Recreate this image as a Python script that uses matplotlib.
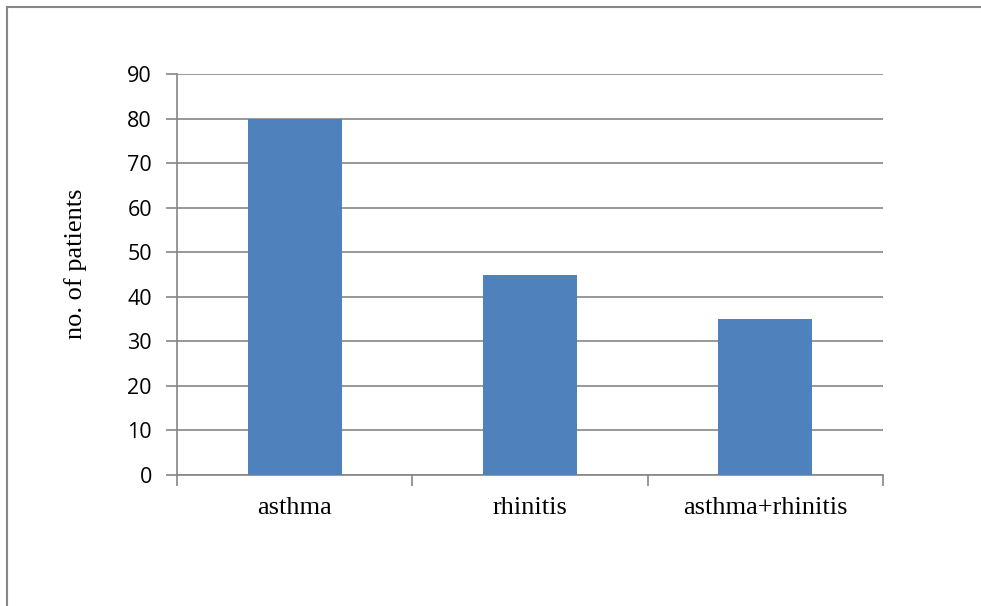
import matplotlib
matplotlib.use("Agg")
import matplotlib.pyplot as plt
from matplotlib.lines import Line2D

categories = ["asthma", "rhinitis", "asthma+rhinitis"]
patients = [80, 45, 35]
y_ticks = [0, 10, 20, 30, 40, 50, 60, 70, 80, 90]

grey = "#868686"

fig = plt.figure(figsize=(9.81, 6.06), dpi=100)
ax = fig.add_axes([177 / 981, 1 - 475 / 606, (883 - 177) / 981, (475 - 74) / 606])

x = list(range(len(categories)))
ax.bar(x, patients, width=0.4, color="#4F81BD", zorder=3)

ax.set_xlim(-0.5, len(categories) - 0.5)
ax.set_ylim(0, 90)
ax.set_yticks(y_ticks)
ax.set_yticklabels([str(v) for v in y_ticks], fontfamily="Open Sans", fontsize=15.5)
ax.yaxis.grid(True, color=grey, linewidth=1.2, zorder=0)

ax.set_xticks([i - 0.5 for i in range(len(categories) + 1)])
ax.set_xticklabels([])
ax.set_xticks(x, minor=True)
ax.set_xticklabels(categories, minor=True, fontfamily="Liberation Serif", fontsize=19)
ax.tick_params(axis="x", which="minor", length=0, pad=16)
ax.tick_params(axis="x", which="major", length=8, width=1.2, color=grey, direction="out")
ax.tick_params(axis="y", length=8, width=1.2, color=grey, direction="out", pad=10)

for side in ["top", "right"]:
    ax.spines[side].set_visible(False)
for side in ["left", "bottom"]:
    ax.spines[side].set_color(grey)
    ax.spines[side].set_linewidth(1.2)

ax.set_ylabel("no. of patients", fontfamily="Liberation Serif", fontsize=19)
ax.yaxis.set_label_coords(-0.128, 0.526)

# outer frame lines (top and left)
fig.add_artist(Line2D([7 / 981, 1], [1 - 7 / 606, 1 - 7 / 606], transform=fig.transFigure, color=grey, linewidth=1.5))
fig.add_artist(Line2D([7 / 981, 7 / 981], [0, 1 - 7 / 606], transform=fig.transFigure, color=grey, linewidth=1.5))

fig.savefig("out.png", dpi=100)
